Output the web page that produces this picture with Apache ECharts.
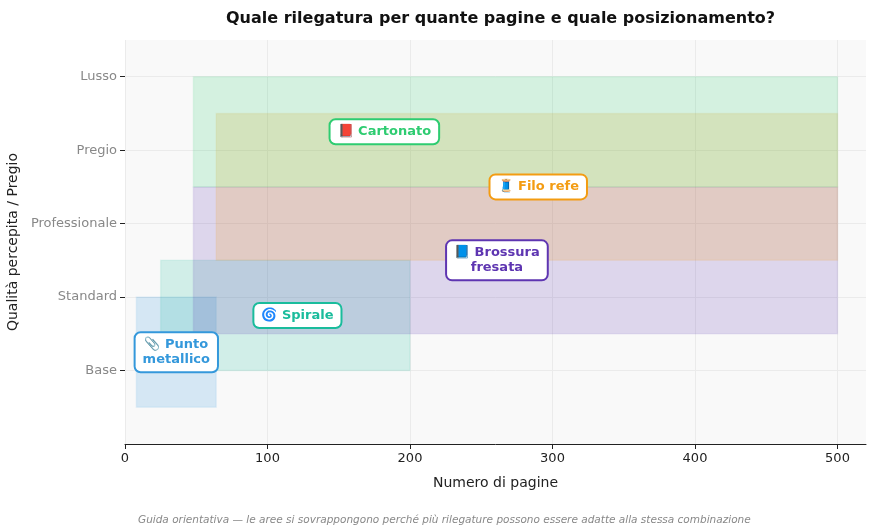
<!DOCTYPE html>
<html><head><meta charset="utf-8">
<script src="https://cdn.jsdelivr.net/npm/echarts@6/dist/echarts.min.js"></script>
<style>html,body{margin:0;padding:0;background:#fff}#main{width:875px;height:531px}</style>
</head><body><div id="main"></div>
<script>
const levels = ['Base', 'Standard', 'Professionale', 'Pregio', 'Lusso'];
const bindings = ['Punto metallico', 'Spirale', 'Brossura fresata', 'Filo refe', 'Cartonato'];
const labels = ['📎 Punto\nmetallico', '🌀 Spirale', '📘 Brossura\nfresata', '🧵 Filo refe', '📕 Cartonato'];
const colors = ['#3498db', '#1abc9c', '#5e35b1', '#f39c12', '#2ecc71'];
// [pagesMin, pagesMax, qualityMin, qualityMax] (quality index: Base=0 .. Lusso=4)
const ranges = [
  [8, 64, -0.5, 1],
  [25, 200, 0, 1.5],
  [48, 500, 0.5, 2.5],
  [64, 500, 1.5, 3.5],
  [48, 500, 2.5, 4]
];
const labelPos = [[36, 0.25], [121, 0.75], [261, 1.5], [290, 2.5], [182, 3.25]];
const levelTicks = [0, 1, 2, 3, 4];

const chart = echarts.init(document.getElementById('main'));
const series = [];
ranges.forEach((r, i) => {
  series.push({
    type: 'custom', name: bindings[i], z: 2,
    data: [r],
    renderItem: (params, api) => {
      const p1 = api.coord([api.value(0), api.value(3)]);
      const p2 = api.coord([api.value(1), api.value(2)]);
      return { type: 'rect', shape: { x: p1[0], y: p1[1], width: p2[0] - p1[0], height: p2[1] - p1[1] },
        style: { fill: colors[i], opacity: 0.18, stroke: colors[i], lineWidth: 1.5, strokeOpacity: 0.5 } };
    }
  });
});
series.push({
  type: 'scatter', z: 5, symbolSize: 0, itemStyle: { opacity: 1 },
  data: labelPos.map((p, i) => ({ value: p, label: {
    show: true, position: 'inside', formatter: labels[i], color: colors[i], fontWeight: 'bold', fontSize: 13,
    fontFamily: 'DejaVu Sans', opacity: 1,
    backgroundColor: '#fff', borderColor: colors[i], borderWidth: 2, borderRadius: 5, padding: [4, 7], lineHeight: 15, align: 'center'
  } }))
});

chart.setOption({
  backgroundColor: '#fff',
  animation: false,
  textStyle: { fontFamily: 'DejaVu Sans' },
  title: [{ text: 'Quale rilegatura per quante pagine e quale posizionamento?', left: 221, top: 6,
    textStyle: { fontSize: 16, fontWeight: 'bold', color: '#111', fontFamily: 'DejaVu Sans' } },
    { text: 'Guida orientativa — le aree si sovrappongono perché più rilegature possono essere adatte alla stessa combinazione',
      left: 133, top: 510, textStyle: { fontSize: 10.5, fontStyle: 'italic', fontWeight: 'normal', color: '#888', fontFamily: 'DejaVu Sans' } }],
  grid: { left: 125, right: 9, top: 40, bottom: 87, containLabel: false, outerBoundsMode: 'none',
    show: true, backgroundColor: '#f9f9f9', borderWidth: 0 },
  xAxis: { type: 'value', min: 0, max: 520, interval: 100, name: 'Numero di pagine', nameLocation: 'middle', nameGap: 32,
    nameTextStyle: { fontSize: 14, color: '#222' },
    axisLabel: { color: '#222', fontSize: 13, formatter: v => v > 500 ? '' : v },
    axisLine: { show: true, onZero: false, lineStyle: { color: '#222' } },
    axisTick: { show: true, customValues: [0, 100, 200, 300, 400, 500], lineStyle: { color: '#222' } },
    splitLine: { lineStyle: { color: '#ebebeb' } } },
  yAxis: { type: 'value', min: -1, max: 4.5, interval: 1, name: 'Qualità percepita / Pregio', nameLocation: 'middle', nameGap: 103,
    nameTextStyle: { fontSize: 14, color: '#222' },
    axisLabel: { color: '#888', fontSize: 13, customValues: levelTicks, formatter: v => levels[v] || '' },
    axisLine: { show: false }, axisTick: { show: true, customValues: levelTicks, lineStyle: { color: '#222' }, length: 5 },
    splitLine: { lineStyle: { color: '#ebebeb' } } },
  series
});
</script></body></html>
